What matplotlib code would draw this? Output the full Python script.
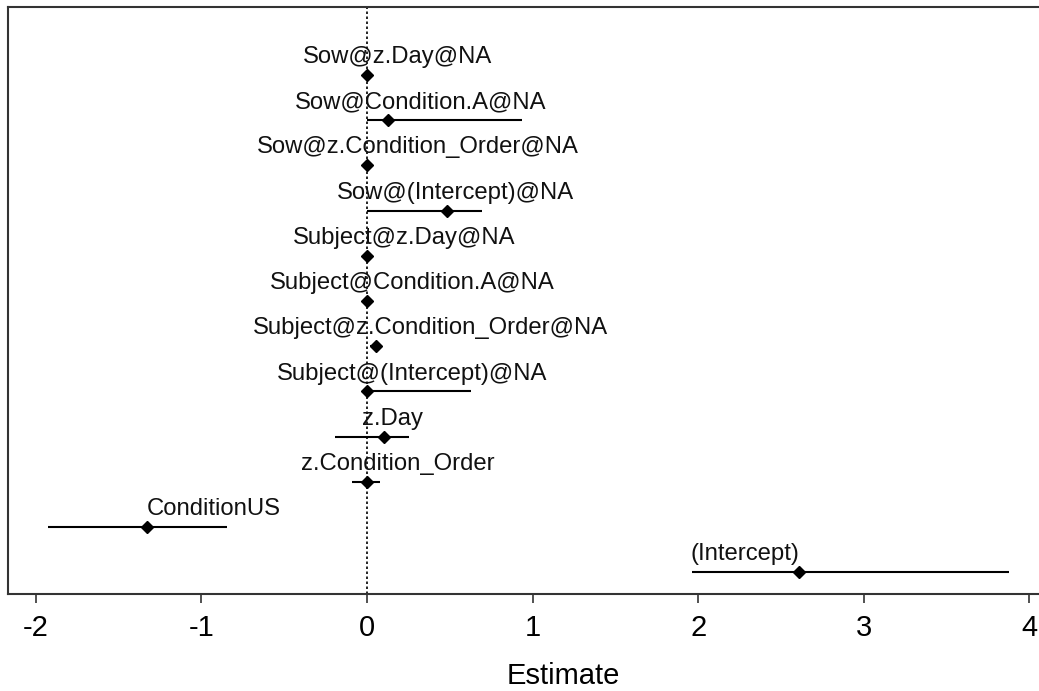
import numpy as np
import matplotlib
matplotlib.use("Agg")
import matplotlib.pyplot as plt

plt.rcParams["font.family"] = ["Liberation Sans", "DejaVu Sans"]

# Terms, top to bottom
terms = ["Sow@z.Day@NA", "Sow@Condition.A@NA", "Sow@z.Condition_Order@NA",
         "Sow@(Intercept)@NA", "Subject@z.Day@NA", "Subject@Condition.A@NA",
         "Subject@z.Condition_Order@NA", "Subject@(Intercept)@NA",
         "z.Day", "z.Condition_Order", "ConditionUS", "(Intercept)"]
estimate = [0.0, 0.125, 0.0, 0.485, 0.0, 0.0, 0.055, 0.0, 0.103, 0.0, -1.33, 2.61]
ci_low = [0.0, 0.0, 0.0, 0.0, 0.0, 0.0, 0.02, 0.0, -0.193, -0.092, -1.928, 1.961]
ci_high = [0.0, 0.935, 0.0, 0.697, 0.0, 0.0, 0.08, 0.628, 0.256, 0.079, -0.847, 3.879]
# where each label is centred along the x axis
label_x = [0.184, 0.326, 0.310, 0.536, 0.222, 0.275, 0.382, 0.271, 0.154, 0.189, -0.928, 2.280]
x_ticks = [-2, -1, 0, 1, 2, 3, 4]

fig = plt.figure(figsize=(10.39, 6.91), dpi=100)
ax = fig.add_axes([0.008, 0.1399, 1.068, 0.850])

y = np.arange(len(terms), 0, -1)

ax.axvline(0, color="black", linestyle=(0, (1.5, 1.5)), linewidth=1.2, zorder=1)
ax.hlines(y, ci_low, ci_high, color="black", linewidth=1.5, zorder=2)
ax.plot(estimate, y, linestyle="none", marker="D", markersize=6,
        color="black", zorder=3)

for lbl, lx, yy in zip(terms, label_x, y):
    ax.annotate(lbl, (lx, yy), xytext=(0, 8.6), textcoords="offset points",
                ha="center", va="baseline", fontsize=17.2, color="#111111")

ax.set_xlim(-2.166, 4.535)
ax.set_ylim(0.513, 13.504)
ax.set_yticks([])
ax.set_xticks(x_ticks, [str(t) for t in x_ticks])
ax.tick_params(axis="x", labelsize=21, length=6.5, width=1.2, pad=8, color="#333333")
ax.set_xlabel("Estimate", fontsize=21, labelpad=14)

for s in ax.spines.values():
    s.set_color("#333333")
    s.set_linewidth(1.5)

fig.savefig("out.png", dpi=100)
